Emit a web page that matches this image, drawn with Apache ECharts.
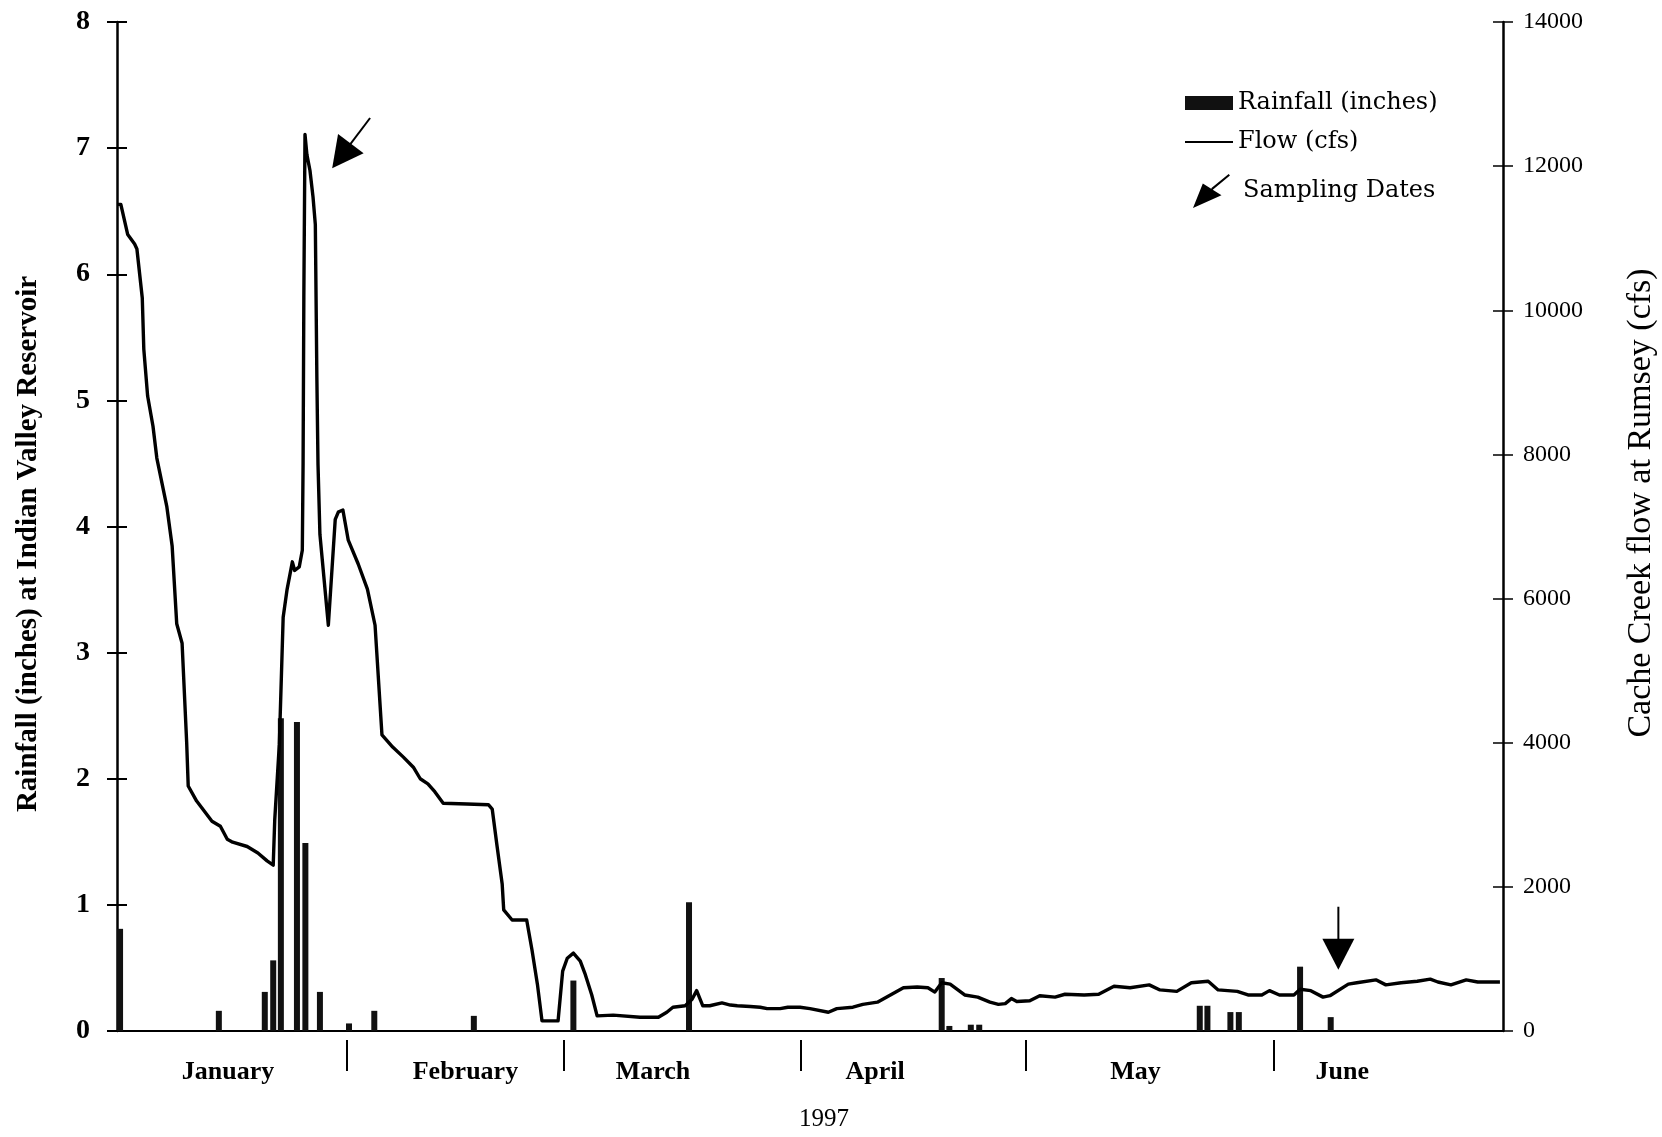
<!DOCTYPE html>
<html>
<head>
<meta charset="utf-8">
<script src="https://cdn.jsdelivr.net/npm/echarts@6/dist/echarts.min.js"></script>
<style>
  html, body { margin: 0; padding: 0; background: #fff; }
  #chart { width: 1662px; height: 1137px; }
</style>
</head>
<body>
<div id="chart"></div>
<script>
// Day index counts from 1 January 1997 (day 0) to the end of June (day 181).
const monthNames = ['January', 'February', 'March', 'April', 'May', 'June'];
const monthDividers = [30, 58.3, 89.3, 118.7, 151];
const monthLabelDays = [14.5, 45.5, 70, 99, 133, 160];

// Daily rainfall at Indian Valley Reservoir (inches)
const rainDay = [0.4, 13.3, 19.3, 20.4, 21.4, 23.5, 24.6, 26.5, 30.3, 33.6, 46.6, 59.6,
  74.7, 107.7, 108.7, 111.5, 112.6, 141.4, 142.4, 145.4, 146.5, 154.5, 158.5];
const rainInches = [0.81, 0.16, 0.31, 0.56, 2.48, 2.45, 1.49, 0.31, 0.06, 0.16, 0.12, 0.40,
  1.02, 0.42, 0.04, 0.05, 0.05, 0.20, 0.20, 0.15, 0.15, 0.51, 0.11];

// Cache Creek flow at Rumsey (cfs)
const flowDay = [0, 0.5, 1.4, 2.3, 2.6, 3.3, 3.5, 4.0, 4.7, 5.2, 6.5, 7.2, 7.8, 8.5, 9.1, 9.3,
  10.4, 12.4, 13.5, 14.4, 15.1, 17.0, 18.4, 19.6, 20.4, 20.6, 21.2, 21.7, 22.2, 22.9, 23.2, 23.8,
  24.2, 24.3, 24.4, 24.55, 24.8, 25.2, 25.6, 25.9, 26.1, 26.25, 26.5, 27.6, 28.5, 28.9, 29.5, 30.2,
  31.5, 32.7, 33.7, 34.6, 36.0, 37.4, 38.7, 39.6, 40.6, 41.5, 42.6, 45.7, 48.5, 49.0, 49.6, 50.3,
  50.5, 51.6, 53.5, 54.2, 54.9, 55.5, 57.6, 58.2, 58.8, 59.6, 60.5, 61.1, 62.0, 62.7, 64.8, 68.3,
  70.7, 71.8, 72.6, 74.2, 75.1, 75.7, 76.5, 77.4, 79.0, 80.1, 81.0, 82.7, 84.0, 84.9, 86.6, 87.6,
  89.2, 90.5, 92.9, 94.0, 96.1, 97.4, 99.3, 101.0, 102.7, 104.5, 105.9, 106.8, 107.7, 108.8, 110.7,
  112.4, 114.0, 115.1, 116.0, 116.8, 117.5, 119.2, 120.5, 122.5, 123.8, 126.3, 128.2, 130.2, 132.3,
  134.8, 136.2, 138.4, 140.3, 142.5, 143.8, 146.3, 147.7, 149.5, 150.5, 151.8, 153.7, 154.5, 155.9,
  157.5, 158.4, 160.8, 161.9, 164.4, 165.7, 167.7, 169.8, 171.5, 172.5, 174.2, 176.2, 177.7, 180.6];
const flowCfs = [11470, 11470, 11050, 10920, 10850, 10170, 9460, 8810, 8390, 7950, 7280, 6730,
  5650, 5380, 4000, 3400, 3190, 2910, 2840, 2660, 2620, 2560, 2470, 2360, 2300, 2930, 3980, 5740,
  6120, 6510, 6390, 6440, 6670, 7860, 10180, 12440, 12160, 11940, 11570, 11190, 9070, 7860, 6890,
  5630, 7100, 7200, 7230, 6810, 6480, 6130, 5630, 4110, 3940, 3800, 3660, 3500, 3430, 3320, 3160,
  3150, 3140, 3080, 2590, 2040, 1680, 1540, 1540, 1120, 650, 140, 140, 830, 1010, 1080, 970, 800,
  500, 210, 220, 190, 190, 260, 330, 350, 440, 560, 350, 350, 390, 360, 350, 340, 330, 310, 310,
  330, 330, 310, 260, 310, 330, 370, 400, 500, 600, 610, 600, 540, 670, 650, 500, 470, 400, 370,
  380, 450, 410, 420, 490, 470, 510, 500, 510, 620, 600, 640, 570, 550, 670, 690, 570, 550, 500,
  500, 560, 500, 500, 580, 560, 470, 490, 650, 670, 710, 640, 670, 690, 720, 680, 640, 710, 680, 680];

// Sampling dates: where each arrow tip sits (day, cfs)
const sampleDay = [28.1, 159.5];
const sampleCfs = [11970, 850];

const serif = '"Liberation Serif", "Times New Roman", serif';
const legendFont = '"DejaVu Serif", "Liberation Serif", serif';
const ink = '#000';

// Arrow headings in degrees (0 = pointing straight down, negative = tilted toward the left)
const arrowTilt = [-37, 0];
const legendArrow = 'path://M0,34 L10,9 L29,21 Z M18.5,14 L36.3,-0.6 L37.6,0.9 L19.8,15.6 Z';
const legendLine = 'path://M0,0 H48 V1.8 H0 Z';

const legendText = { fontFamily: legendFont, fontSize: 24, color: ink, lineHeight: 26 };

const chart = echarts.init(document.getElementById('chart'), null, { renderer: 'canvas' });

// shared pieces for the paired y axes (outer ticks + inner ticks form small crosses)
const leftScale = { min: 0, max: 8, interval: 1 };
const rightScale = { min: 0, max: 14000, interval: 2000 };

chart.setOption({
  animation: false,
  backgroundColor: '#fff',
  grid: { left: 117, right: 159, top: 22, bottom: 104 },
  legend: [
    {
      data: [{ name: 'Rainfall (inches)', icon: 'rect' }],
      left: 1180, top: 85, itemWidth: 48, itemHeight: 14, selectedMode: false,
      textStyle: legendText
    },
    {
      data: [{ name: 'Flow (cfs)', icon: legendLine }],
      left: 1180, top: 124, itemWidth: 48, itemHeight: 13, selectedMode: false,
      textStyle: legendText
    },
    {
      data: [{ name: 'Sampling Dates', icon: legendArrow }],
      left: 1188, top: 169, itemWidth: 37, itemHeight: 34, selectedMode: false,
      textStyle: Object.assign({}, legendText, { padding: [0, 0, 0, 8] })
    }
  ],
  xAxis: [
    {
      type: 'value',
      min: 0,
      max: 181,
      name: '1997',
      nameLocation: 'middle',
      nameGap: 76,
      nameTextStyle: { fontFamily: serif, fontSize: 25, color: ink, padding: [0, 0, 0, 28] },
      axisLine: { show: true, onZero: false, lineStyle: { color: ink, width: 2 } },
      axisTick: { show: false },
      axisLabel: {
        show: true,
        customValues: monthLabelDays,
        margin: 28,
        fontFamily: serif,
        fontSize: 26,
        fontWeight: 'bold',
        color: ink,
        formatter: v => monthNames[monthLabelDays.indexOf(v)] || ''
      },
      splitLine: { show: false }
    },
    {
      // month dividers hang just below the baseline
      type: 'value',
      position: 'bottom',
      offset: 9,
      min: 0,
      max: 181,
      axisLine: { show: false, onZero: false },
      axisTick: { show: true, customValues: monthDividers, length: 31, lineStyle: { color: ink, width: 2 } },
      axisLabel: { show: false },
      splitLine: { show: false }
    }
  ],
  yAxis: [
    Object.assign({
      type: 'value', position: 'left',
      axisLine: { show: true, onZero: false, lineStyle: { color: ink, width: 2.5 } },
      axisTick: { show: true, length: 10, lineStyle: { color: ink, width: 2 } },
      axisLabel: { margin: 27, fontFamily: serif, fontSize: 28, fontWeight: 'bold', color: ink },
      splitLine: { show: false }
    }, leftScale),
    Object.assign({
      type: 'value', position: 'right',
      axisLine: { show: true, onZero: false, lineStyle: { color: ink, width: 2.5 } },
      axisTick: { show: true, length: 10, lineStyle: { color: ink, width: 1.5 } },
      axisLabel: { margin: 20, fontFamily: serif, fontSize: 24, color: ink, formatter: v => String(v) },
      splitLine: { show: false }
    }, rightScale),
    Object.assign({
      type: 'value', position: 'left',
      axisLine: { show: false, onZero: false }, axisLabel: { show: false }, splitLine: { show: false },
      axisTick: { show: true, inside: true, length: 10, lineStyle: { color: ink, width: 2 } }
    }, leftScale),
    Object.assign({
      type: 'value', position: 'right',
      axisLine: { show: false, onZero: false }, axisLabel: { show: false }, splitLine: { show: false },
      axisTick: { show: true, inside: true, length: 10, lineStyle: { color: ink, width: 1.5 } }
    }, rightScale)
  ],
  graphic: [
    {
      type: 'text', x: 29, y: 544, rotation: Math.PI / 2,
      style: {
        text: 'Rainfall (inches) at Indian Valley Reservoir',
        font: 'bold 29px "Liberation Serif", serif', fill: ink,
        align: 'center', verticalAlign: 'middle'
      }
    },
    {
      type: 'text', x: 1641, y: 503, rotation: Math.PI / 2,
      style: {
        text: 'Cache Creek flow at Rumsey (cfs)',
        font: '34px "Liberation Serif", serif', fill: ink,
        align: 'center', verticalAlign: 'middle'
      }
    }
  ],
  series: [
    {
      name: 'Rainfall (inches)',
      type: 'bar',
      xAxisIndex: 0,
      yAxisIndex: 0,
      barWidth: 6,
      itemStyle: { color: '#111' },
      data: rainDay.map((d, i) => [d, rainInches[i]]),
      z: 2
    },
    {
      name: 'Flow (cfs)',
      type: 'line',
      xAxisIndex: 0,
      yAxisIndex: 1,
      symbol: 'none',
      lineStyle: { color: ink, width: 3.4, join: 'round' },
      itemStyle: { color: ink },
      data: flowDay.map((d, i) => [d, flowCfs[i]]),
      z: 3
    },
    {
      name: 'Sampling Dates',
      type: 'custom',
      xAxisIndex: 0,
      yAxisIndex: 1,
      itemStyle: { color: ink },
      data: sampleDay.map((d, i) => [d, sampleCfs[i]]),
      renderItem: function (params, api) {
        const tip = api.coord([api.value(0), api.value(1)]);
        const rot = arrowTilt[params.dataIndex] * Math.PI / 180;
        return {
          type: 'group',
          x: tip[0],
          y: tip[1],
          rotation: rot,
          children: [
            { type: 'polygon', shape: { points: [[0, 0], [-16, -31], [16, -31]] }, style: { fill: ink } },
            { type: 'line', shape: { x1: 0, y1: -28, x2: 0, y2: -63 }, style: { stroke: ink, lineWidth: 2 } }
          ]
        };
      },
      z: 4
    }
  ]
});
</script>
</body>
</html>
